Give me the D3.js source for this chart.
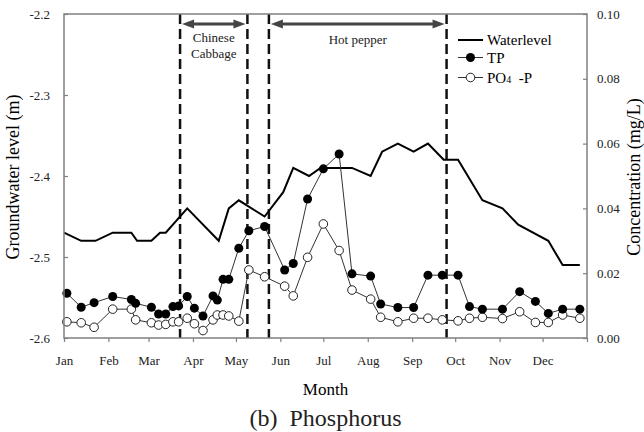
<!DOCTYPE html>
<html>
<head>
<meta charset="utf-8">
<script src="https://cdn.jsdelivr.net/npm/d3@7"></script>
<style>
  body { margin: 0; background: #fff; }
  svg { display: block; }
  svg text { font-family: "Liberation Serif", "Times New Roman", serif; }
</style>
</head>
<body>
<svg></svg>
<script>
// Declare Variables
let monthLabels = ["Jan", "Feb", "Mar", "Apr", "May", "Jun", "Jul", "Aug", "Sep", "Oct", "Nov", "Dec"];

let waterDates = ["01-01", "01-13", "01-23", "02-04", "02-17", "02-21", "03-03", "03-09", "03-13", "03-28",
  "04-19", "04-26", "05-03", "05-21", "06-03", "06-10", "06-21", "06-29", "07-21", "08-03",
  "08-11", "08-22", "09-02", "09-12", "09-23", "10-03", "10-20", "11-03", "11-14", "12-05",
  "12-15", "12-27"];
let waterLevel = [-2.47, -2.48, -2.48, -2.47, -2.47, -2.48, -2.48, -2.47, -2.47, -2.44,
  -2.48, -2.44, -2.43, -2.45, -2.42, -2.39, -2.40, -2.39, -2.39, -2.40,
  -2.37, -2.36, -2.37, -2.36, -2.38, -2.38, -2.43, -2.44, -2.46, -2.48,
  -2.51, -2.51];

let sampleDates = ["01-03", "01-13", "01-22", "02-04", "02-17", "02-20", "03-03", "03-08", "03-13", "03-18",
  "03-22", "03-28", "04-02", "04-08", "04-15", "04-18", "04-22", "04-26", "05-03", "05-10",
  "05-21", "06-04", "06-10", "06-20", "07-01", "07-12", "07-21", "08-03", "08-10", "08-22",
  "09-02", "09-12", "09-22", "10-03", "10-11", "10-20", "11-03", "11-15", "11-26", "12-05",
  "12-15", "12-27"];
let tpValues = [0.0138, 0.0095, 0.0109, 0.0128, 0.0119, 0.0107, 0.0095, 0.0074, 0.0074, 0.0097,
  0.0099, 0.0128, 0.0092, 0.0068, 0.0130, 0.0117, 0.0181, 0.0181, 0.0277, 0.0331,
  0.0344, 0.0210, 0.0230, 0.0429, 0.0522, 0.0568, 0.0198, 0.0191, 0.0105, 0.0094,
  0.0094, 0.0194, 0.0194, 0.0194, 0.0097, 0.0089, 0.0089, 0.0143, 0.0113, 0.0076,
  0.0089, 0.0089];
let po4Values = [0.0050, 0.0047, 0.0033, 0.0089, 0.0089, 0.0056, 0.0047, 0.0040, 0.0042, 0.0050,
  0.0050, 0.0061, 0.0044, 0.0023, 0.0056, 0.0071, 0.0071, 0.0068, 0.0052, 0.0210,
  0.0189, 0.0160, 0.0130, 0.0249, 0.0352, 0.0270, 0.0148, 0.0120, 0.0064, 0.0050,
  0.0061, 0.0061, 0.0056, 0.0053, 0.0061, 0.0064, 0.0060, 0.0081, 0.0048, 0.0048,
  0.0071, 0.0061];

let leftTicks = [-2.6, -2.5, -2.4, -2.3, -2.2];
let rightTicks = [0, 0.02, 0.04, 0.06, 0.08, 0.10];

let cropNames = [["Chinese", "Cabbage"], ["Hot pepper"]];
let cropStarts = ["03-23", "05-24"];
let cropEnds = ["05-09", "09-25"];

let width = 644;
let height = 432;
let margin = { left: 64, right: 57, top: 14, bottom: 94 };
let serif = "'Liberation Serif', 'Times New Roman', serif";

let parseDay = (md) => d3.timeParse("%Y-%m-%d")("2009-" + md);

let svg = d3.select("svg");
let xScale, yLeft, yRight;

// Declare Functions
let drawCanvas = () => {
  svg.attr("width", width).attr("height", height);
  svg.append("rect").attr("width", width).attr("height", height).attr("fill", "#fff");
};

let generateScales = () => {
  xScale = d3.scaleTime()
    .domain([new Date(2009, 0, 1), new Date(2010, 0, 1)])
    .range([margin.left, width - margin.right]);
  yLeft = d3.scaleLinear()
    .domain([-2.6, -2.2])
    .range([height - margin.bottom, margin.top]);
  yRight = d3.scaleLinear()
    .domain([0, 0.1])
    .range([height - margin.bottom, margin.top]);
};

let generateAxes = () => {
  let monthTicks = d3.timeMonth.range(new Date(2009, 0, 1), new Date(2010, 0, 2));
  let xAxis = d3.axisBottom(xScale)
    .tickValues(monthTicks)
    .tickSize(4)
    .tickPadding(14)
    .tickFormat((d, i) => monthLabels[i] || "");
  let leftAxis = d3.axisLeft(yLeft).tickValues(leftTicks).tickSize(-4).tickPadding(14)
    .tickFormat((d) => d.toFixed(1));
  let rightAxis = d3.axisRight(yRight).tickValues(rightTicks).tickSize(-4).tickPadding(10)
    .tickFormat((d) => d.toFixed(2));

  let gx = svg.append("g").attr("transform", "translate(0," + (height - margin.bottom) + ")").call(xAxis);
  let gl = svg.append("g").attr("transform", "translate(" + margin.left + ",0)").call(leftAxis);
  let gr = svg.append("g").attr("transform", "translate(" + (width - margin.right) + ",0)").call(rightAxis);

  [gx, gl, gr].forEach((g) => {
    g.attr("font-family", serif).attr("font-size", 13);
    g.select(".domain").remove();
    g.selectAll(".tick line").attr("stroke", "#808080").attr("stroke-width", 1.2);
    g.selectAll(".tick text").attr("fill", "#222");
  });

  svg.append("rect")
    .attr("x", margin.left)
    .attr("y", margin.top)
    .attr("width", width - margin.left - margin.right)
    .attr("height", height - margin.top - margin.bottom)
    .attr("fill", "none")
    .attr("stroke", "#808080")
    .attr("stroke-width", 1.5);

  svg.append("text")
    .attr("transform", "translate(19," + 177 + ") rotate(-90)")
    .attr("text-anchor", "middle")
    .attr("font-family", serif)
    .attr("font-size", 18)
    .text("Groundwater level (m)");

  svg.append("text")
    .attr("transform", "translate(640," + 177 + ") rotate(-90)")
    .attr("text-anchor", "middle")
    .attr("font-family", serif)
    .attr("font-size", 18)
    .text("Concentration (mg/L)");

  svg.append("text")
    .attr("x", (margin.left + width - margin.right) / 2)
    .attr("y", 395)
    .attr("text-anchor", "middle")
    .attr("font-family", serif)
    .attr("font-size", 17)
    .text("Month");

  svg.append("text")
    .attr("x", (margin.left + width - margin.right) / 2)
    .attr("y", 426)
    .attr("text-anchor", "middle")
    .attr("xml:space", "preserve")
    .attr("font-family", serif)
    .attr("font-size", 24)
    .attr("fill", "#222")
    .style("white-space", "pre")
    .text("(b)  Phosphorus");
};

let drawCrops = () => {
  let bounds = cropStarts.concat(cropEnds).map(parseDay);
  svg.selectAll(".crop-line")
    .data(bounds)
    .enter()
    .append("line")
    .attr("class", "crop-line")
    .attr("x1", (d) => xScale(d))
    .attr("x2", (d) => xScale(d))
    .attr("y1", margin.top)
    .attr("y2", height - margin.bottom)
    .attr("stroke", "#111")
    .attr("stroke-width", 2.5)
    .attr("stroke-dasharray", "10,5");

  let ay = 24;
  cropNames.forEach((name, i) => {
    let x1 = xScale(parseDay(cropStarts[i])) + 2;
    let x2 = xScale(parseDay(cropEnds[i])) - 2;
    svg.append("line")
      .attr("x1", x1 + 8).attr("x2", x2 - 8)
      .attr("y1", ay).attr("y2", ay)
      .attr("stroke", "#444").attr("stroke-width", 3);
    svg.append("path")
      .attr("d", `M${x1},${ay} L${x1 + 12},${ay - 4.5} L${x1 + 12},${ay + 4.5} Z`)
      .attr("fill", "#444");
    svg.append("path")
      .attr("d", `M${x2},${ay} L${x2 - 12},${ay - 4.5} L${x2 - 12},${ay + 4.5} Z`)
      .attr("fill", "#444");
    let t = svg.append("text")
      .attr("text-anchor", "middle")
      .attr("fill", "#222")
      .attr("font-family", serif)
      .attr("font-size", 13);
    name.forEach((line, j) => {
      t.append("tspan")
        .attr("x", (x1 + x2) / 2)
        .attr("y", (name.length > 1 ? 42 : 44) + j * 16)
        .text(line);
    });
  });
};

let drawSeries = () => {
  let waterData = waterDates.map((d, i) => ({ date: parseDay(d), value: waterLevel[i] }));
  let tpData = sampleDates.map((d, i) => ({ date: parseDay(d), value: tpValues[i] }));
  let po4Data = sampleDates.map((d, i) => ({ date: parseDay(d), value: po4Values[i] }));

  let waterLine = d3.line().x((d) => xScale(d.date)).y((d) => yLeft(d.value));
  let concLine = d3.line().x((d) => xScale(d.date)).y((d) => yRight(d.value));

  svg.append("path")
    .datum(waterData)
    .attr("d", waterLine)
    .attr("fill", "none")
    .attr("stroke", "#000")
    .attr("stroke-width", 2);

  svg.append("path")
    .datum(po4Data)
    .attr("d", concLine)
    .attr("fill", "none")
    .attr("stroke", "#333")
    .attr("stroke-width", 1);

  svg.append("path")
    .datum(tpData)
    .attr("d", concLine)
    .attr("fill", "none")
    .attr("stroke", "#333")
    .attr("stroke-width", 1);

  svg.selectAll(".po4")
    .data(po4Data)
    .enter()
    .append("circle")
    .attr("class", "po4")
    .attr("cx", (d) => xScale(d.date))
    .attr("cy", (d) => yRight(d.value))
    .attr("r", 4.3)
    .attr("fill", "#fff")
    .attr("stroke", "#222")
    .attr("stroke-width", 1);

  svg.selectAll(".tp")
    .data(tpData)
    .enter()
    .append("circle")
    .attr("class", "tp")
    .attr("cx", (d) => xScale(d.date))
    .attr("cy", (d) => yRight(d.value))
    .attr("r", 4.5)
    .attr("fill", "#000");
};

let drawLegend = () => {
  let lx = 458;
  let rows = [40, 57.5, 77.5];
  let legend = svg.append("g").attr("font-family", serif).attr("font-size", 15);

  legend.append("line").attr("x1", lx).attr("x2", lx + 25).attr("y1", rows[0]).attr("y2", rows[0])
    .attr("stroke", "#000").attr("stroke-width", 2);
  legend.append("text").attr("x", lx + 29).attr("y", rows[0] + 5).text("Waterlevel");

  legend.append("line").attr("x1", lx).attr("x2", lx + 25).attr("y1", rows[1]).attr("y2", rows[1])
    .attr("stroke", "#333").attr("stroke-width", 1);
  legend.append("circle").attr("cx", lx + 12.5).attr("cy", rows[1]).attr("r", 4.5).attr("fill", "#000");
  legend.append("text").attr("x", lx + 29).attr("y", rows[1] + 5).text("TP");

  legend.append("line").attr("x1", lx).attr("x2", lx + 25).attr("y1", rows[2]).attr("y2", rows[2])
    .attr("stroke", "#333").attr("stroke-width", 1);
  legend.append("circle").attr("cx", lx + 12.5).attr("cy", rows[2]).attr("r", 4.3)
    .attr("fill", "#fff").attr("stroke", "#222");
  let po = legend.append("text").attr("x", lx + 29).attr("y", rows[2] + 5).attr("xml:space", "preserve");
  po.append("tspan").text("PO");
  po.append("tspan").attr("font-size", 10).text("4");
  po.append("tspan").text("  -P");
};

drawCanvas();
generateScales();
drawCrops();
drawSeries();
generateAxes();
drawLegend();
</script>
</body>
</html>
